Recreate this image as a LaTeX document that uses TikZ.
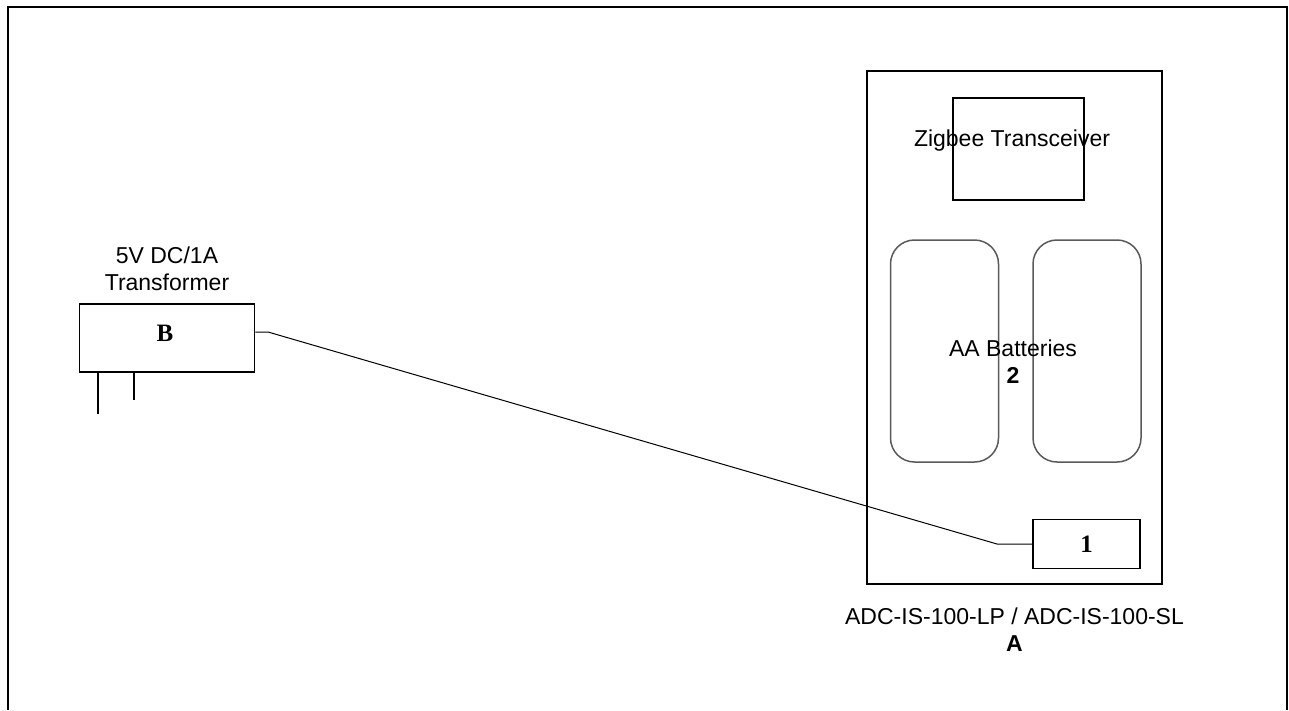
\documentclass[tikz,border=0pt]{standalone}
\usepackage{fontspec}
\setmainfont{Liberation Sans}
\newfontfamily\serifface{Liberation Serif}
\usetikzlibrary{positioning}

\begin{document}
\begin{tikzpicture}[
      x=1pt, y=-1pt,
      font=\fontsize{23}{27}\selectfont,
      part/.style={
        rectangle,
        draw=black,
        line width=1.6pt,
        inner sep=0pt,
      },
      cell/.style={
        rectangle,
        draw=black!65,
        line width=1.5pt,
        rounded corners=24pt,
        minimum width=108pt,
        minimum height=222pt,
      },
      tag/.style={font=\fontsize{25}{27}\selectfont\serifface\bfseries}
      ]
      \useasboundingbox (0,0) rectangle (1289,710);
      \draw[line width=2.6pt] (8,710) -- (8,7) -- (1287,7) -- (1287,710);
      % transformer
      \node[part, minimum width=175pt, minimum height=68pt] (xfmr) at (167,338) {};
      \node[tag] at (165,333) {B};
      \node[above=9pt of xfmr, align=center] (xfmrlabel) {5V DC/1A\\Transformer};
      \draw[line width=1.6pt] ([xshift=19pt]xfmr.south west) -- ++(0,41);
      \draw[line width=1.6pt] ([xshift=55pt]xfmr.south west) -- ++(0,27);
      % device
      \node[part, minimum width=295pt, minimum height=513pt] (dev) at (1014.5,327.5) {};
      \node[part, minimum width=131pt, minimum height=102pt] (zig) at (1018.5,149) {};
      \node at (1012,141) {Zigbee Transceiver};
      \node[cell] (bat1) at (944.5,351) {};
      \node[cell] (bat2) at (1087,351) {};
      \node[align=center] at (1013,362) {AA Batteries\\\textbf{2}};
      \node[part, tag, minimum width=107pt, minimum height=49pt] (one) at (1086.5,544) {1};
      \node[below=19pt of dev, align=center] (devlabel) {ADC-IS-100-LP / ADC-IS-100-SL\\\textbf{A}};
      % cable
      \coordinate (bend1) at (268,332);
      \coordinate (bend2) at (997,544);
      \draw[line width=1pt] (xfmr.east |- bend1) -- (bend1) -- (bend2) -- (one.west);
    \end{tikzpicture}
\end{document}
